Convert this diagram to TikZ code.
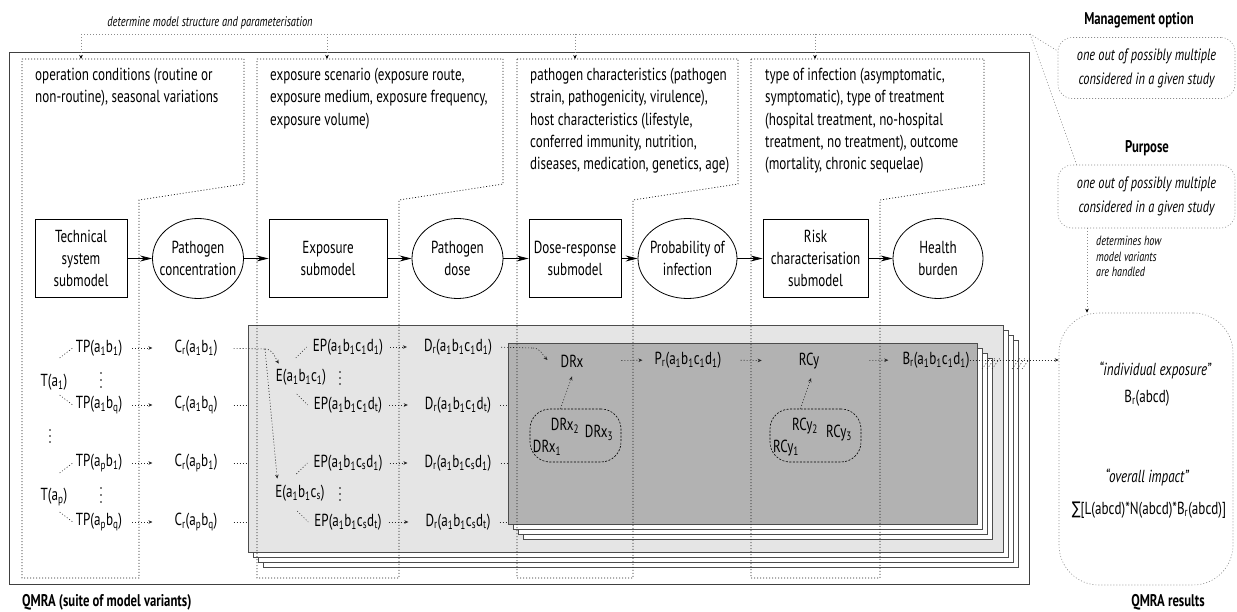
\documentclass[tikz,border=0pt]{standalone}
\usepackage{fontspec}
\setmainfont{PT Sans}[FakeStretch=0.75]
\newfontfamily\symf{DejaVu Sans}[FakeStretch=0.75]
\usetikzlibrary{arrows.meta,shapes.geometric,calc}
\newcommand{\ssb}[1]{\textsubscript{#1}}
\newcommand{\mfont}{\fontsize{17.5}{22.3}\selectfont}
\newcommand{\ifont}{\fontsize{16.5}{24}\selectfont\itshape}
\newcommand{\sfont}{\fontsize{13.5}{15.5}\selectfont\itshape}
\newcommand{\bfnt}{\fontsize{17}{20}\selectfont\bfseries}
\begin{document}
\begin{tikzpicture}[x=1bp,y=-1bp,
  sub/.style={draw, line width=0.8bp, align=center, font=\mfont, minimum height=78bp, inner sep=0},
  ell/.style={ellipse, draw, line width=0.8bp, minimum height=80bp, inner sep=0},
  flow/.style={line width=0.8bp, -{Stealth[length=12bp,width=6bp]}},
  lbl/.style={font=\mfont, inner sep=0},
  dotc/.style={line width=0.6bp, dash pattern=on 1bp off 2bp, black!85},
  dotarr/.style={dotc, -{Stealth[length=4bp,width=3.5bp]}},
  colbox/.style={line width=0.7bp, dash pattern=on 1bp off 2bp, black!90},
  gdot/.style={line width=0.6bp, dash pattern=on 1bp off 2bp, draw=black!45},
  garr/.style={gdot, -{Stealth[length=4bp,width=3.5bp,black]}},
  layer/.style={draw=black!70, line width=0.8bp, fill=white, inner sep=0, anchor=north west},
  cloud/.style={draw, line width=0.6bp, dash pattern=on 2bp off 1.5bp, rounded corners=20bp, minimum width=91bp, minimum height=53bp, inner sep=0},
  vdot/.style={fill=black, circle, inner sep=0, minimum size=1.6bp}
]
\useasboundingbox (0,0) rectangle (1237,612);

% main frame
\draw[line width=0.8bp, draw=black!75] (9,52) rectangle (1029,584);
\node[font=\bfnt, anchor=west, inner sep=0] (qlab) at (22,602) {QMRA (suite of model variants)};

% stacked layers (light)
\foreach \k in {3,2,1}{
  \node[layer, minimum width=755bp, minimum height=227bp] at (248+5*\k,325+5*\k) {};
}
\node[layer, fill=black!10, minimum width=755bp, minimum height=227bp] (L1) at (248,325) {};
% stacked layers (dark)
\foreach \k in {3,2,1}{
  \node[layer, minimum width=469bp, minimum height=181bp] at (508+5*\k,343+5*\k) {};
}
\node[layer, fill=black!30, minimum width=469bp, minimum height=181bp] (L2) at (508,343) {};

% column boxes
\draw[colbox] (22,59) -- (244,59) -- (244,184) -- (139,200) -- (139,578) -- (22,578) -- cycle;
\draw[colbox] (257,59) -- (503,59) -- (503,184) -- (399,200) -- (399,578) -- (257,578) -- cycle;
\draw[colbox] (517,59) -- (738,59) -- (738,184) -- (633,200) -- (633,578) -- (517,578) -- cycle;
\draw[colbox] (751,59) -- (984,59) -- (984,184) -- (880,200) -- (880,578) -- (751,578) -- cycle;

\node[lbl, anchor=north west, align=left] (t1) at (35,68) {operation conditions (routine or\\non-routine), seasonal variations};
\node[lbl, anchor=north west, align=left] (t2) at (270,68) {exposure scenario (exposure route,\\exposure medium, exposure frequency,\\exposure volume)};
\node[lbl, anchor=north west, align=left] (t3) at (530,68) {pathogen characteristics (pathogen\\strain, pathogenicity, virulence),\\host characteristics (lifestyle,\\conferred immunity, nutrition,\\diseases, medication, genetics, age)};
\node[lbl, anchor=north west, align=left] (t4) at (765,68) {type of infection (asymptomatic,\\symptomatic), type of treatment\\(hospital treatment, no-hospital\\treatment, no treatment), outcome\\(mortality, chronic sequelae)};

% top bus
\node[font=\fontsize{14}{16}\selectfont\itshape, inner sep=0] (dlab) at (210,23) {determine model structure and parameterisation};
\coordinate (b0) at (81,34);
\coordinate (bE) at (1030,34);
\coordinate (k1) at (81,59);
\coordinate (k2) at (327,59);
\coordinate (k3) at (575,59);
\coordinate (k4) at (815,59);
\draw[gdot] (b0) -- (bE);
\foreach \c in {k1,k2,k3,k4}{ \draw[garr] (\c |- b0) -- (\c); }

% main flow
\node[sub, minimum width=92bp] (tech) at (81,258.5) {Technical\\system\\submodel};
\node[ell, minimum width=91bp, label={[lbl,align=center]center:Pathogen\\concentration}] (pc) at (198,258.5) {};
\node[sub, minimum width=118bp] (exs) at (328,258.5) {Exposure\\submodel};
\node[ell, minimum width=91bp, label={[lbl,align=center]center:Pathogen\\dose}] (pd) at (457.5,258.5) {};
\node[sub, minimum width=92bp] (drs) at (575,258.5) {Dose-response\\submodel};
\node[ell, minimum width=99bp, label={[lbl,align=center]center:Probability of\\infection}] (pi) at (687.5,258.5) {};
\node[sub, minimum width=105bp] (rcs) at (815.5,258.5) {Risk\\characterisation\\submodel};
\node[ell, minimum width=90bp, label={[lbl,align=center]center:Health\\burden}] (hb) at (938,258.5) {};
\draw[flow] (tech) -- (pc);
\draw[flow] (pc) -- (exs);
\draw[flow] (exs) -- (pd);
\draw[flow] (pd) -- (drs);
\draw[flow] (drs) -- (pi);
\draw[flow] (pi) -- (rcs);
\draw[flow] (rcs) -- (hb);

% technical system level
\node[lbl] (T1) at (54,382) {T(a\ssb{1})};
\node[lbl] (Tp) at (54,497) {T(a\ssb{p})};
\node[lbl] (TP1) at (99,348) {TP(a\ssb{1}b\ssb{1})};
\node[lbl] (TP2) at (99,405) {TP(a\ssb{1}b\ssb{q})};
\node[lbl] (TP3) at (99,463) {TP(a\ssb{p}b\ssb{1})};
\node[lbl] (TP4) at (99,522) {TP(a\ssb{p}b\ssb{q})};
\foreach \x/\y in {101/373,101/380,101/387, 101/488,101/495,101/502, 50/430,50/436,50/442, 340/372,340/378,340/384, 340/488,340/494,340/500}{
  \node[vdot] at (\x,\y) {};
}
\draw[dotc] ([shift={(-16,10)}]TP1.west) -- ([shift={(-3,0)}]TP1.west);
\draw[dotc] ([shift={(-16,-10)}]TP2.west) -- ([shift={(-3,0)}]TP2.west);
\draw[dotc] ([shift={(-16,10)}]TP3.west) -- ([shift={(-3,0)}]TP3.west);
\draw[dotc] ([shift={(-16,-10)}]TP4.west) -- ([shift={(-3,0)}]TP4.west);

\node[lbl] (C1) at (196,348) {C\ssb{r}(a\ssb{1}b\ssb{1})};
\node[lbl] (C2) at (196,405) {C\ssb{r}(a\ssb{1}b\ssb{q})};
\node[lbl] (C3) at (196,463) {C\ssb{r}(a\ssb{p}b\ssb{1})};
\node[lbl] (C4) at (196,522) {C\ssb{r}(a\ssb{p}b\ssb{q})};
\foreach \i in {1,2,3,4}{
  \draw[dotarr, shorten <=10bp, shorten >=22bp] (TP\i.east) -- (C\i.west |- TP\i.east);
}
\foreach \i in {2,3,4}{
  \draw[dotc, shorten <=16bp] (C\i.east) -- (L1.west |- C\i.east);
}

% exposure level
\node[lbl] (E1) at (301,377) {E(a\ssb{1}b\ssb{1}c\ssb{1})};
\node[lbl] (E2) at (300,493) {E(a\ssb{1}b\ssb{1}c\ssb{s})};
\coordinate (brc) at (265,349);
\draw[dotc, shorten <=16bp] (C1.east) -- (brc);
\draw[dotarr] (brc) to[out=0,in=120] ([shift={(3,-5)}]E1.north west);
\draw[dotarr] (brc) -- ([shift={(2,-6)}]E2.north west);

\node[lbl] (EP1) at (348,347) {EP(a\ssb{1}b\ssb{1}c\ssb{1}d\ssb{1})};
\node[lbl] (EP2) at (348,405) {EP(a\ssb{1}b\ssb{1}c\ssb{1}d\ssb{t})};
\node[lbl] (EP3) at (348,463) {EP(a\ssb{1}b\ssb{1}c\ssb{s}d\ssb{1})};
\node[lbl] (EP4) at (348,522) {EP(a\ssb{1}b\ssb{1}c\ssb{s}d\ssb{t})};
\draw[dotc] ([shift={(-17,11)}]EP1.west) -- ([shift={(-6,0)}]EP1.west);
\draw[dotc] ([shift={(-17,-11)}]EP2.west) -- ([shift={(-6,0)}]EP2.west);
\draw[dotc] ([shift={(-17,11)}]EP3.west) -- ([shift={(-6,0)}]EP3.west);
\draw[dotc] ([shift={(-17,-11)}]EP4.west) -- ([shift={(-6,0)}]EP4.west);

\node[lbl] (D1) at (458,347) {D\ssb{r}(a\ssb{1}b\ssb{1}c\ssb{1}d\ssb{1})};
\node[lbl] (D2) at (458,405) {D\ssb{r}(a\ssb{1}b\ssb{1}c\ssb{1}d\ssb{t})};
\node[lbl] (D3) at (458,463) {D\ssb{r}(a\ssb{1}b\ssb{1}c\ssb{s}d\ssb{1})};
\node[lbl] (D4) at (458,522) {D\ssb{r}(a\ssb{1}b\ssb{1}c\ssb{s}d\ssb{t})};
\foreach \i in {1,2,3,4}{
  \draw[dotarr, shorten <=7bp, shorten >=17bp] (EP\i.east) -- (D\i.west |- EP\i.east);
}
\foreach \i in {2,3,4}{
  \draw[dotc, shorten <=9bp] (D\i.east) -- (L2.west |- D\i.east);
}

% dose-response / risk level
\node[lbl] (DRx) at (572,361) {DRx};
\node[lbl] (P1) at (688,360) {P\ssb{r}(a\ssb{1}b\ssb{1}c\ssb{1}d\ssb{1})};
\node[lbl] (RCy) at (809,361) {RCy};
\node[lbl] (B1) at (936,360) {B\ssb{r}(a\ssb{1}b\ssb{1}c\ssb{1}d\ssb{1})};
\coordinate (brd) at (533,348);
\draw[dotc, shorten <=9bp] (D1.east) -- (brd);
\draw[dotarr] (brd) to[out=0,in=135] ([shift={(-13,-1)}]DRx.west);
\draw[dotarr, shorten <=38bp, shorten >=12bp] (DRx.east) -- (P1.west);
\draw[dotarr, shorten <=19bp, shorten >=37bp] (P1.east) -- (RCy.west);
\draw[dotarr, shorten <=50bp, shorten >=14bp] (RCy.east) -- (B1.west);

\node[cloud] (cl1) at (575.5,435.5) {};
\node[lbl] (dx2) at (565,426) {DRx\ssb{2}};
\node[lbl] (dx3) at (599,433) {DRx\ssb{3}};
\node[lbl] (dx1) at (547,448) {DRx\ssb{1}};
\draw[dotarr] ([shift={(-15,0)}]cl1.north) -- ([shift={(0,9)}]DRx.south);
\node[cloud] (cl2) at (815.5,435.5) {};
\node[lbl] (ry2) at (805,426) {RCy\ssb{2}};
\node[lbl] (ry3) at (839,433) {RCy\ssb{3}};
\node[lbl] (ry1) at (786,448) {RCy\ssb{1}};
\draw[dotarr] ([shift={(-15,0)}]cl2.north) -- ([shift={(2,9)}]RCy.south);

% right side
\node[font=\bfnt, inner sep=0] (molab) at (1139,20) {Management option};
\node[gdot, draw, rounded corners=14bp, minimum width=177bp, minimum height=61bp, align=center, font=\ifont, inner sep=0] (mo) at (1146.5,68) {one out of possibly multiple\\considered in a given study};
\node[font=\bfnt, inner sep=0] (pulab) at (1147,148) {Purpose};
\node[gdot, draw, rounded corners=14bp, minimum width=177bp, minimum height=63bp, align=center, font=\ifont, inner sep=0] (pu) at (1146.5,196.5) {one out of possibly multiple\\considered in a given study};
\draw[gdot] (bE) -- ([shift={(0,-17)}]mo.west);
\draw[gdot] (bE) -- ([shift={(19,0)}]pu.north west);

\node[gdot, draw, rounded corners=40bp, minimum width=174bp, minimum height=272bp, inner sep=0] (res) at (1146,449) {};
\coordinate (pr) at (1087,228);
\draw[garr] (pr) -- (pr |- res.north);
\node[font=\sfont, anchor=north west, align=left, inner sep=0] (dh) at (1096,236) {determines how\\model variants\\are handled};
\node[font=\fontsize{17.5}{20}\selectfont\itshape, inner sep=0] (ie) at (1155,370) {“individual exposure”};
\node[lbl] (brab) at (1147,398) {B\ssb{r}(abcd)};
\node[font=\fontsize{17.5}{20}\selectfont\itshape, inner sep=0] (oi) at (1147,477) {“overall impact”};
\node[lbl] (sum) at (1149,510) {{\symf ∑}[L(abcd)*N(abcd)*B\ssb{r}(abcd)]};
\node[font=\bfnt, inner sep=0] (rlab) at (1168,602) {QMRA results};

\draw[dotarr] (B1.east) -- (B1.east -| res.west);
\foreach \k in {0,1,2}{
  \draw[dotc] (982+5*\k,369) -- (990+5*\k,358);
  \draw[dotc] (1012+5*\k,369) -- (1020+5*\k,358);
}
\end{tikzpicture}
\end{document}
